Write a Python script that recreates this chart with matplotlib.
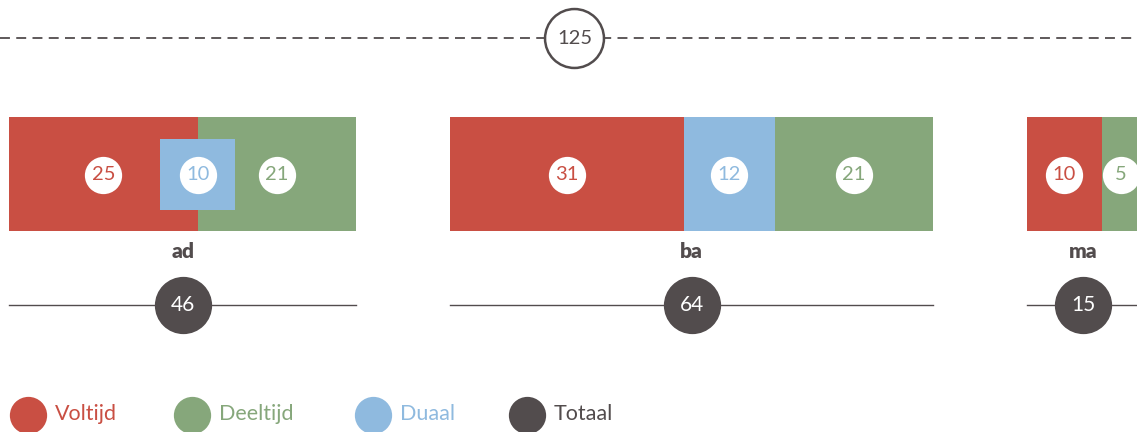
import matplotlib.pyplot as plt

plt.rcParams['font.family'] = ['Lato', 'DejaVu Sans']

# data
groups = ['ad', 'ba', 'ma']
voltijd = [25, 31, 10]
duaal = [10, 12, 0]
deeltijd = [21, 21, 5]
totaal = [46, 64, 15]
duaal_inline = [False, True, False]   # ad: duaal overlapt voltijd/deeltijd
overall = 125

RED = '#c94f43'
GREEN = '#86a77b'
BLUE = '#8fbadf'
DARK = '#524c4d'

gap = 12.4          # ruimte tussen de groepen (in eenheden)
px = 7.55           # pixels per eenheid

fig = plt.figure(figsize=(11.37, 4.32), dpi=100)
ax = fig.add_axes([0, 0, 1, 1])
ax.set_xlim(-9 / px, (1137 - 9) / px)
ax.set_ylim(432, 0)
ax.axis('off')

bar_y, bar_h = 174, 114
starts = []
x = 0
for i, g in enumerate(groups):
    starts.append(x)
    left = x
    # voltijd
    ax.barh(bar_y, voltijd[i], left=left, height=bar_h, color=RED, zorder=2)
    segs = [(left + voltijd[i] / 2, voltijd[i], RED)]
    left += voltijd[i]
    if duaal_inline[i] and duaal[i] > 0:
        ax.barh(bar_y, duaal[i], left=left, height=bar_h, color=BLUE, zorder=2)
        segs.append((left + duaal[i] / 2, duaal[i], BLUE))
        left += duaal[i]
    ax.barh(bar_y, deeltijd[i], left=left, height=bar_h, color=GREEN, zorder=2)
    segs.append((left + deeltijd[i] / 2, deeltijd[i], GREEN))
    if not duaal_inline[i] and duaal[i] > 0:
        c = x + voltijd[i]
        ax.barh(bar_y, duaal[i], left=c - duaal[i] / 2, height=71, color=BLUE, zorder=3)
        segs.append((c, duaal[i], BLUE))

    for cx, v, col in segs:
        ax.scatter(cx, 175, s=720, color='white', zorder=4, linewidths=0)
        ax.text(cx, 175, str(v), ha='center', va='center', color=col,
                fontsize=14.5, zorder=5)

    mid = x + totaal[i] / 2
    ax.text(mid, 251, g, ha='center', va='center', color=DARK,
            fontsize=15, fontweight='heavy')
    ax.plot([x, x + totaal[i]], [305, 305], color=DARK, lw=1, zorder=2)
    ax.scatter(mid, 305, s=1700, color=DARK, zorder=3, linewidths=0)
    ax.text(mid, 305, str(totaal[i]), ha='center', va='center', color='white',
            fontsize=15, zorder=4)
    x += totaal[i] + gap

# totaal lijn bovenaan
xmin, xmax = ax.get_xlim()
ax.plot([xmin, xmax], [38, 38], color=DARK, lw=1.3, dashes=(5.5, 3.5), zorder=1)
top_mid = (starts[0] + starts[-1] + totaal[-1]) / 2
ax.scatter(top_mid, 38, s=1800, color='white', edgecolors=DARK, linewidths=1.8, zorder=3)
ax.text(top_mid, 38, str(overall), ha='center', va='center', color=DARK,
        fontsize=14.5, zorder=4)

# legenda
legend = [('Voltijd', RED, 28), ('Deeltijd', GREEN, 192),
          ('Duaal', BLUE, 373), ('Totaal', DARK, 527)]
for name, col, cx in legend:
    xd = cx / px + xmin
    ax.scatter(xd, 415, s=720, color=col, linewidths=0, clip_on=False)
    ax.text(xd + 27 / px, 414, name, ha='left', va='center', color=col,
            fontsize=15.5)

fig.savefig('out.png', dpi=100)
